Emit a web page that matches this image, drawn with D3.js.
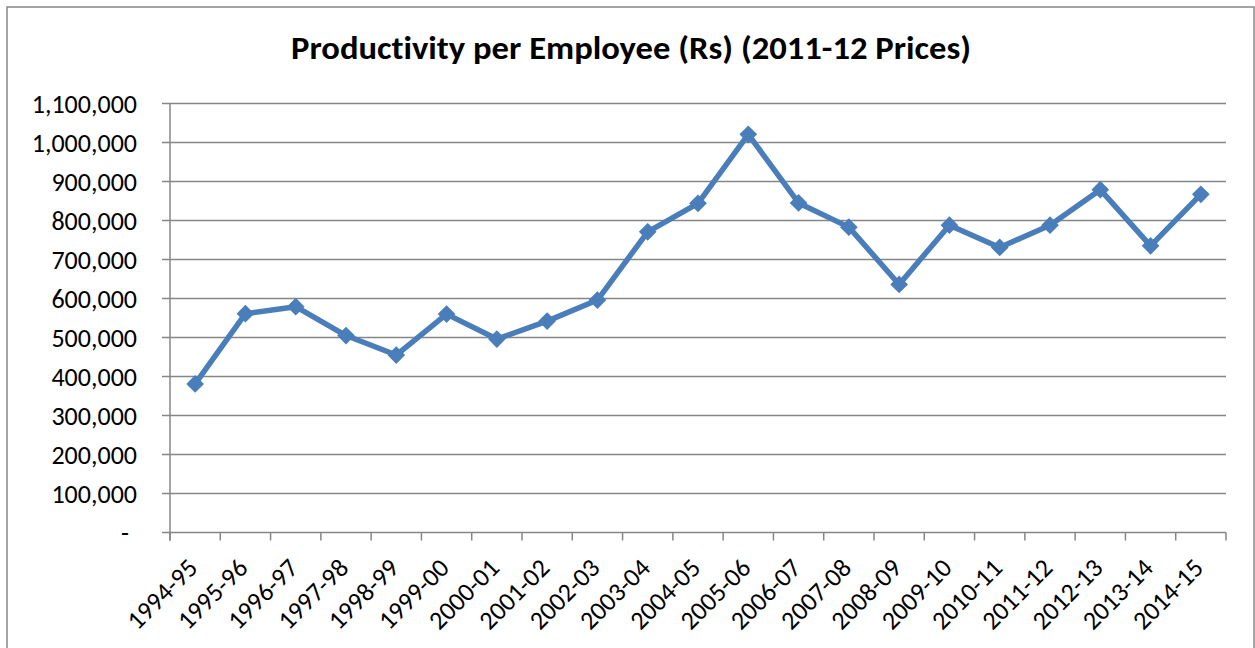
<!DOCTYPE html>
<html>
<head>
<meta charset="utf-8">
<script src="https://cdn.jsdelivr.net/npm/d3@7"></script>
<style>
  body { margin: 0; background: #fff; }
  svg { display: block; }
  text { font-family: Carlito, Lato, "Open Sans", sans-serif; fill: #000; font-variant-ligatures: none; }
</style>
</head>
<body>
<svg id="chart" width="1255" height="648"></svg>
<script>
const years = ["1994-95","1995-96","1996-97","1997-98","1998-99","1999-00","2000-01",
  "2001-02","2002-03","2003-04","2004-05","2005-06","2006-07","2007-08","2008-09",
  "2009-10","2010-11","2011-12","2012-13","2013-14","2014-15"];
const productivity = [381000, 561000, 579000, 505000, 455000, 560000, 496000,
  542000, 596000, 771000, 844000, 1021000, 845000, 783000, 636000,
  788000, 731000, 788000, 879000, 735000, 867000];
const yTicks = [0, 100000, 200000, 300000, 400000, 500000, 600000, 700000,
  800000, 900000, 1000000, 1100000];
const title = "Productivity per Employee (Rs) (2011-12 Prices)";

const svg = d3.select("#chart");
const plotLeft = 170, plotRight = 1226, plotTop = 103.5, plotBottom = 532.5;
const gridColor = "#868686";
const lineColor = "#4a7ebb";

// chart frame
svg.append("rect")
  .attr("x", 7).attr("y", 7).attr("width", 1247).attr("height", 660)
  .attr("fill", "none").attr("stroke", gridColor).attr("stroke-width", 1.5);

svg.append("text")
  .attr("x", 631).attr("y", 59)
  .attr("text-anchor", "middle")
  .attr("font-size", 32).attr("font-weight", "bold")
  .attr("textLength", 680).attr("lengthAdjust", "spacingAndGlyphs")
  .text(title);

const x = d3.scaleBand().domain(years).range([plotLeft, plotRight]);
const y = d3.scaleLinear().domain([0, 1100000]).range([plotBottom, plotTop]);

// gridlines
svg.append("g")
  .selectAll("line")
  .data(yTicks)
  .join("line")
    .attr("x1", plotLeft - 8).attr("x2", plotRight)
    .attr("y1", d => y(d)).attr("y2", d => y(d))
    .attr("stroke", gridColor).attr("stroke-width", 1.5);

// y labels
svg.append("g")
  .selectAll("text")
  .data(yTicks)
  .join("text")
    .attr("x", 137).attr("y", d => y(d))
    .attr("dy", "0.38em")
    .attr("text-anchor", "end")
    .attr("font-size", 26)
    .text(d => d === 0 ? "-" : d3.format(",")(d))
    .attr("dx", d => d === 0 ? -8 : 0);

// y axis line
svg.append("line")
  .attr("x1", plotLeft).attr("x2", plotLeft).attr("y1", plotTop).attr("y2", plotBottom + 8)
  .attr("stroke", gridColor).attr("stroke-width", 1.5);

// category boundary ticks
const bounds = years.map(d => x(d)).concat([plotRight]);
svg.append("g")
  .selectAll("line")
  .data(bounds)
  .join("line")
    .attr("x1", d => d).attr("x2", d => d)
    .attr("y1", plotBottom).attr("y2", plotBottom + 8)
    .attr("stroke", gridColor).attr("stroke-width", 1.5);

// x labels
svg.append("g")
  .selectAll("text")
  .data(years)
  .join("text")
    .attr("transform", d => `translate(${x(d) + x.bandwidth() / 2 + 4},${plotBottom + 37}) rotate(-45)`)
    .attr("text-anchor", "end")
    .attr("font-size", 26)
    .text(d => d);

// series
const cx = d => x(d) + x.bandwidth() / 2;
svg.append("path")
  .datum(productivity)
  .attr("fill", "none")
  .attr("stroke", lineColor)
  .attr("stroke-width", 5.5)
  .attr("stroke-linejoin", "round")
  .attr("d", d3.line().x((d, i) => cx(years[i])).y(d => y(d)));

svg.append("g")
  .selectAll("path")
  .data(productivity)
  .join("path")
    .attr("transform", (d, i) => `translate(${cx(years[i])},${y(d)})`)
    .attr("d", d3.symbol(d3.symbolDiamond2, 200)())
    .attr("fill", lineColor);
</script>
</body>
</html>
